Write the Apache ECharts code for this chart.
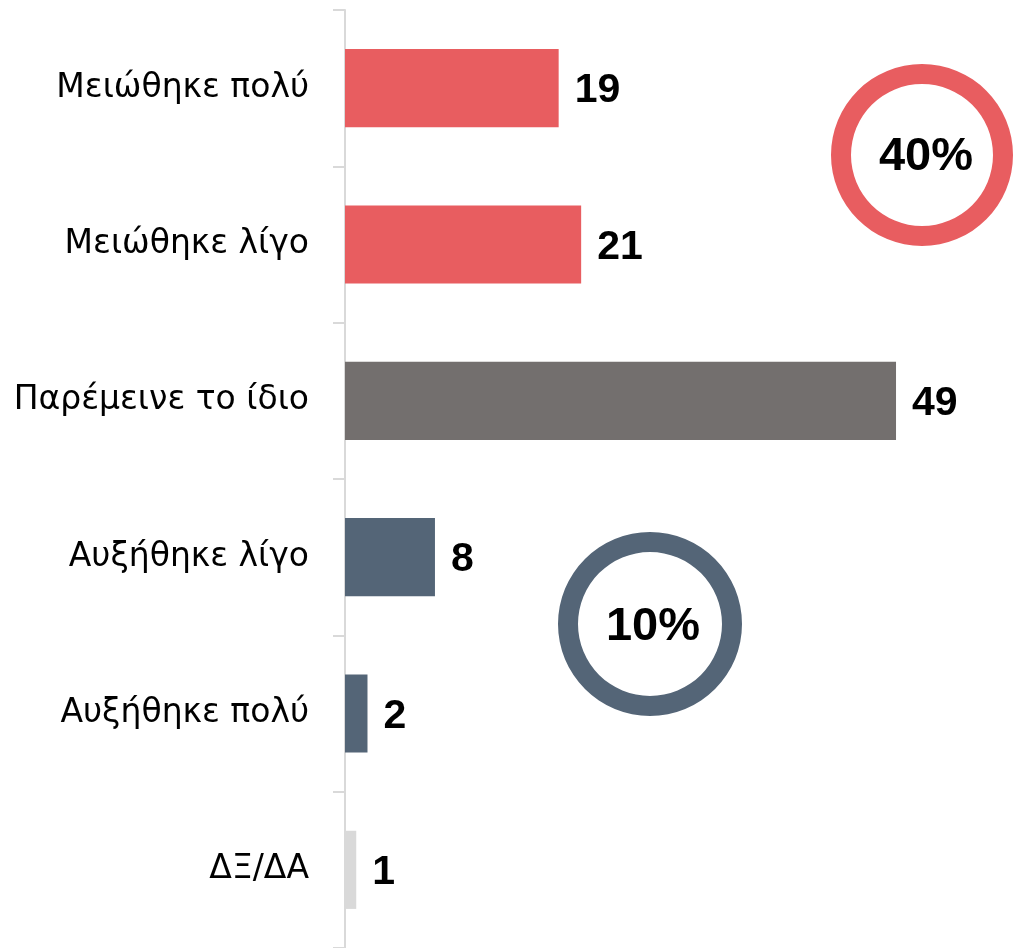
<!DOCTYPE html>
<html>
<head>
<meta charset="utf-8">
<script src="https://cdn.jsdelivr.net/npm/echarts@6/dist/echarts.min.js"></script>
<style>
html,body{margin:0;padding:0;background:#fff;}
#chart{width:1015px;height:948px;}
</style>
</head>
<body>
<div id="chart"></div>
<script>
const categories = ['Μειώθηκε πολύ', 'Μειώθηκε λίγο', 'Παρέμεινε το ίδιο', 'Αυξήθηκε λίγο', 'Αυξήθηκε πολύ', 'ΔΞ/ΔΑ'];
const values = [19, 21, 49, 8, 2, 1];
const barColors = ['#E85D60', '#E85D60', '#736F6E', '#546577', '#546577', '#D9D9D9'];
const decreaseShare = values[0] + values[1];
const increaseShare = values[3] + values[4];

const chart = echarts.init(document.getElementById('chart'));
chart.setOption({
  animation: false,
  backgroundColor: '#ffffff',
  grid: { left: 345, right: 51.5, top: 10, bottom: -2, containLabel: false },
  xAxis: {
    type: 'value', min: 0, max: 55, show: false
  },
  yAxis: {
    type: 'category',
    data: categories,
    inverse: true,
    axisLine: { show: true, lineStyle: { color: '#D9D9D9', width: 2 } },
    axisTick: { show: true, length: 12, lineStyle: { color: '#D9D9D9', width: 2 } },
    axisLabel: {
      margin: 36,
      color: '#000000',
      fontFamily: 'DejaVu Sans',
      fontSize: 33,
      padding: [7, 0, 0, 0]
    }
  },
  series: [{
    type: 'bar',
    data: values.map((v, i) => ({ value: v, itemStyle: { color: barColors[i] } })),
    barCategoryGap: '50%',
    label: {
      show: true,
      position: 'right',
      distance: 16,
      offset: [0, 3],
      color: '#000000',
      fontFamily: 'Liberation Sans',
      fontWeight: 'bold',
      fontSize: 41
    }
  }],
  graphic: [
    { type: 'ring', shape: { cx: 922, cy: 155, r: 91, r0: 71 }, style: { fill: '#E85D60' } },
    { type: 'text', x: 926, y: 157, style: { text: decreaseShare + '%', fill: '#000', font: 'bold 47px "Liberation Sans"', textAlign: 'center', textVerticalAlign: 'middle' } },
    { type: 'ring', shape: { cx: 650, cy: 624, r: 92, r0: 72 }, style: { fill: '#546577' } },
    { type: 'text', x: 653, y: 627, style: { text: increaseShare + '%', fill: '#000', font: 'bold 47px "Liberation Sans"', textAlign: 'center', textVerticalAlign: 'middle' } }
  ]
});
</script>
</body>
</html>
